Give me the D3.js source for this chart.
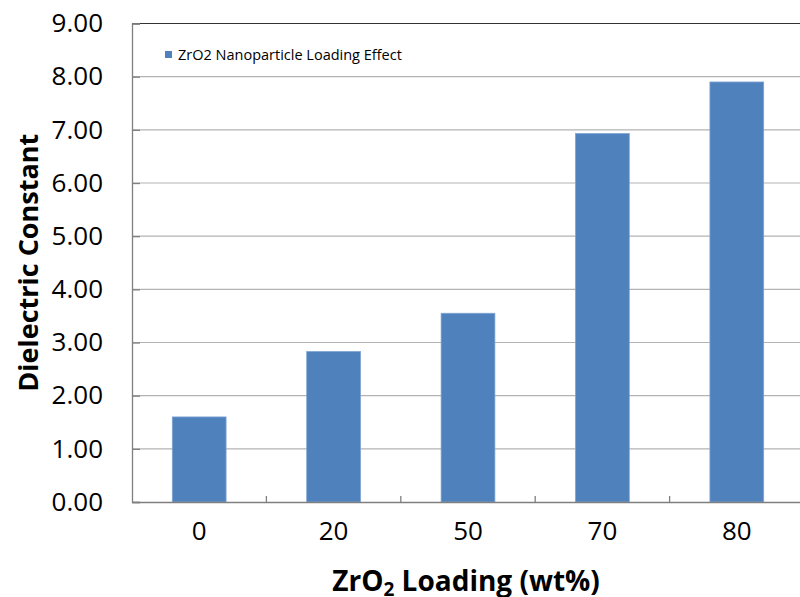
<!DOCTYPE html>
<html>
<head>
<meta charset="utf-8">
<script src="https://cdn.jsdelivr.net/npm/d3@7"></script>
<style>
  body { margin: 0; background: #fff; }
  svg { display: block; }
</style>
</head>
<body>
<div id="chart"></div>
<script>
var loadings = ["0", "20", "50", "70", "80"];
var dielectric = [1.60, 2.83, 3.55, 6.93, 7.90];
var yTicks = [0, 1, 2, 3, 4, 5, 6, 7, 8, 9];
var seriesName = "ZrO2 Nanoparticle Loading Effect";

var width = 800, height = 597;
var plotLeft = 132, plotTop = 23.5, plotRight = 804, plotBottom = 502;
var font = "'Open Sans', sans-serif";

var svg = d3.select("#chart").append("svg")
  .attr("width", width)
  .attr("height", height);

var x = d3.scaleBand().domain(loadings).range([plotLeft, plotRight]).paddingInner(0.6).paddingOuter(0.3);
var y = d3.scaleLinear().domain([0, 9]).range([plotBottom, plotTop]);

// gridlines
svg.append("g")
  .selectAll("line")
  .data(yTicks.slice(1))
  .enter().append("line")
  .attr("x1", plotLeft).attr("x2", plotRight)
  .attr("y1", function(d) { return y(d); })
  .attr("y2", function(d) { return y(d); })
  .attr("stroke", function(d) { return d == 9 ? "#333" : "#b3b3b3"; })
  .attr("stroke-width", 1.2);

// bars
svg.append("g")
  .selectAll("rect")
  .data(dielectric)
  .enter().append("rect")
  .attr("x", function(d, i) { return x(loadings[i]); })
  .attr("y", function(d) { return y(d); })
  .attr("width", x.bandwidth())
  .attr("height", function(d) { return y(0) - y(d); })
  .attr("fill", "#4f81bd")
  .attr("stroke", "#7ea3d2")
  .attr("stroke-width", 0.8);

// y axis
var yAxis = svg.append("g")
  .attr("transform", "translate(" + plotLeft + ",0)")
  .call(d3.axisLeft(y).tickValues(yTicks).tickSize(-8).tickPadding(29).tickFormat(d3.format(".2f")));
yAxis.select(".domain").attr("stroke", "#7f7f7f").attr("stroke-width", 1.3);
yAxis.selectAll(".tick line").attr("stroke", "#7f7f7f").attr("stroke-width", 1.3);
yAxis.selectAll("text").style("font", "26px " + font).attr("fill", "#000");

// x axis
var bandStep = x.step();
var xAxis = svg.append("g")
  .attr("transform", "translate(0," + plotBottom + ")")
  .call(d3.axisBottom(x).tickSize(0).tickPadding(20));
xAxis.select(".domain").attr("stroke", "#7f7f7f").attr("stroke-width", 1.3);
xAxis.selectAll("text").style("font", "26px " + font).attr("fill", "#000");
xAxis.selectAll(".sep")
  .data(loadings.slice(1))
  .enter().append("line")
  .attr("class", "sep")
  .attr("x1", function(d) { return x(d) + x.bandwidth() / 2 - bandStep / 2; })
  .attr("x2", function(d) { return x(d) + x.bandwidth() / 2 - bandStep / 2; })
  .attr("y1", 0).attr("y2", -6)
  .attr("stroke", "#7f7f7f").attr("stroke-width", 1.3);

// legend
svg.append("rect")
  .attr("x", 165).attr("y", 51).attr("width", 7).attr("height", 7)
  .attr("fill", "#4f81bd");
svg.append("text")
  .attr("x", 178).attr("y", 60)
  .style("font", "14.5px " + font)
  .attr("fill", "#000")
  .text(seriesName);

// axis titles
svg.append("text")
  .attr("transform", "translate(38," + ((plotTop + plotBottom) / 2) + ") rotate(-90)")
  .attr("text-anchor", "middle")
  .style("font", "bold 27px " + font)
  .attr("fill", "#000")
  .text("Dielectric Constant");

var xt = svg.append("text")
  .attr("x", 466).attr("y", 591)
  .attr("text-anchor", "middle")
  .style("font", "bold 28px " + font)
  .attr("fill", "#000");
xt.append("tspan").text("ZrO");
xt.append("tspan").attr("dy", 5).style("font-size", "19px").text("2");
xt.append("tspan").attr("dy", -5).text(" Loading (wt%)");
</script>
</body>
</html>
